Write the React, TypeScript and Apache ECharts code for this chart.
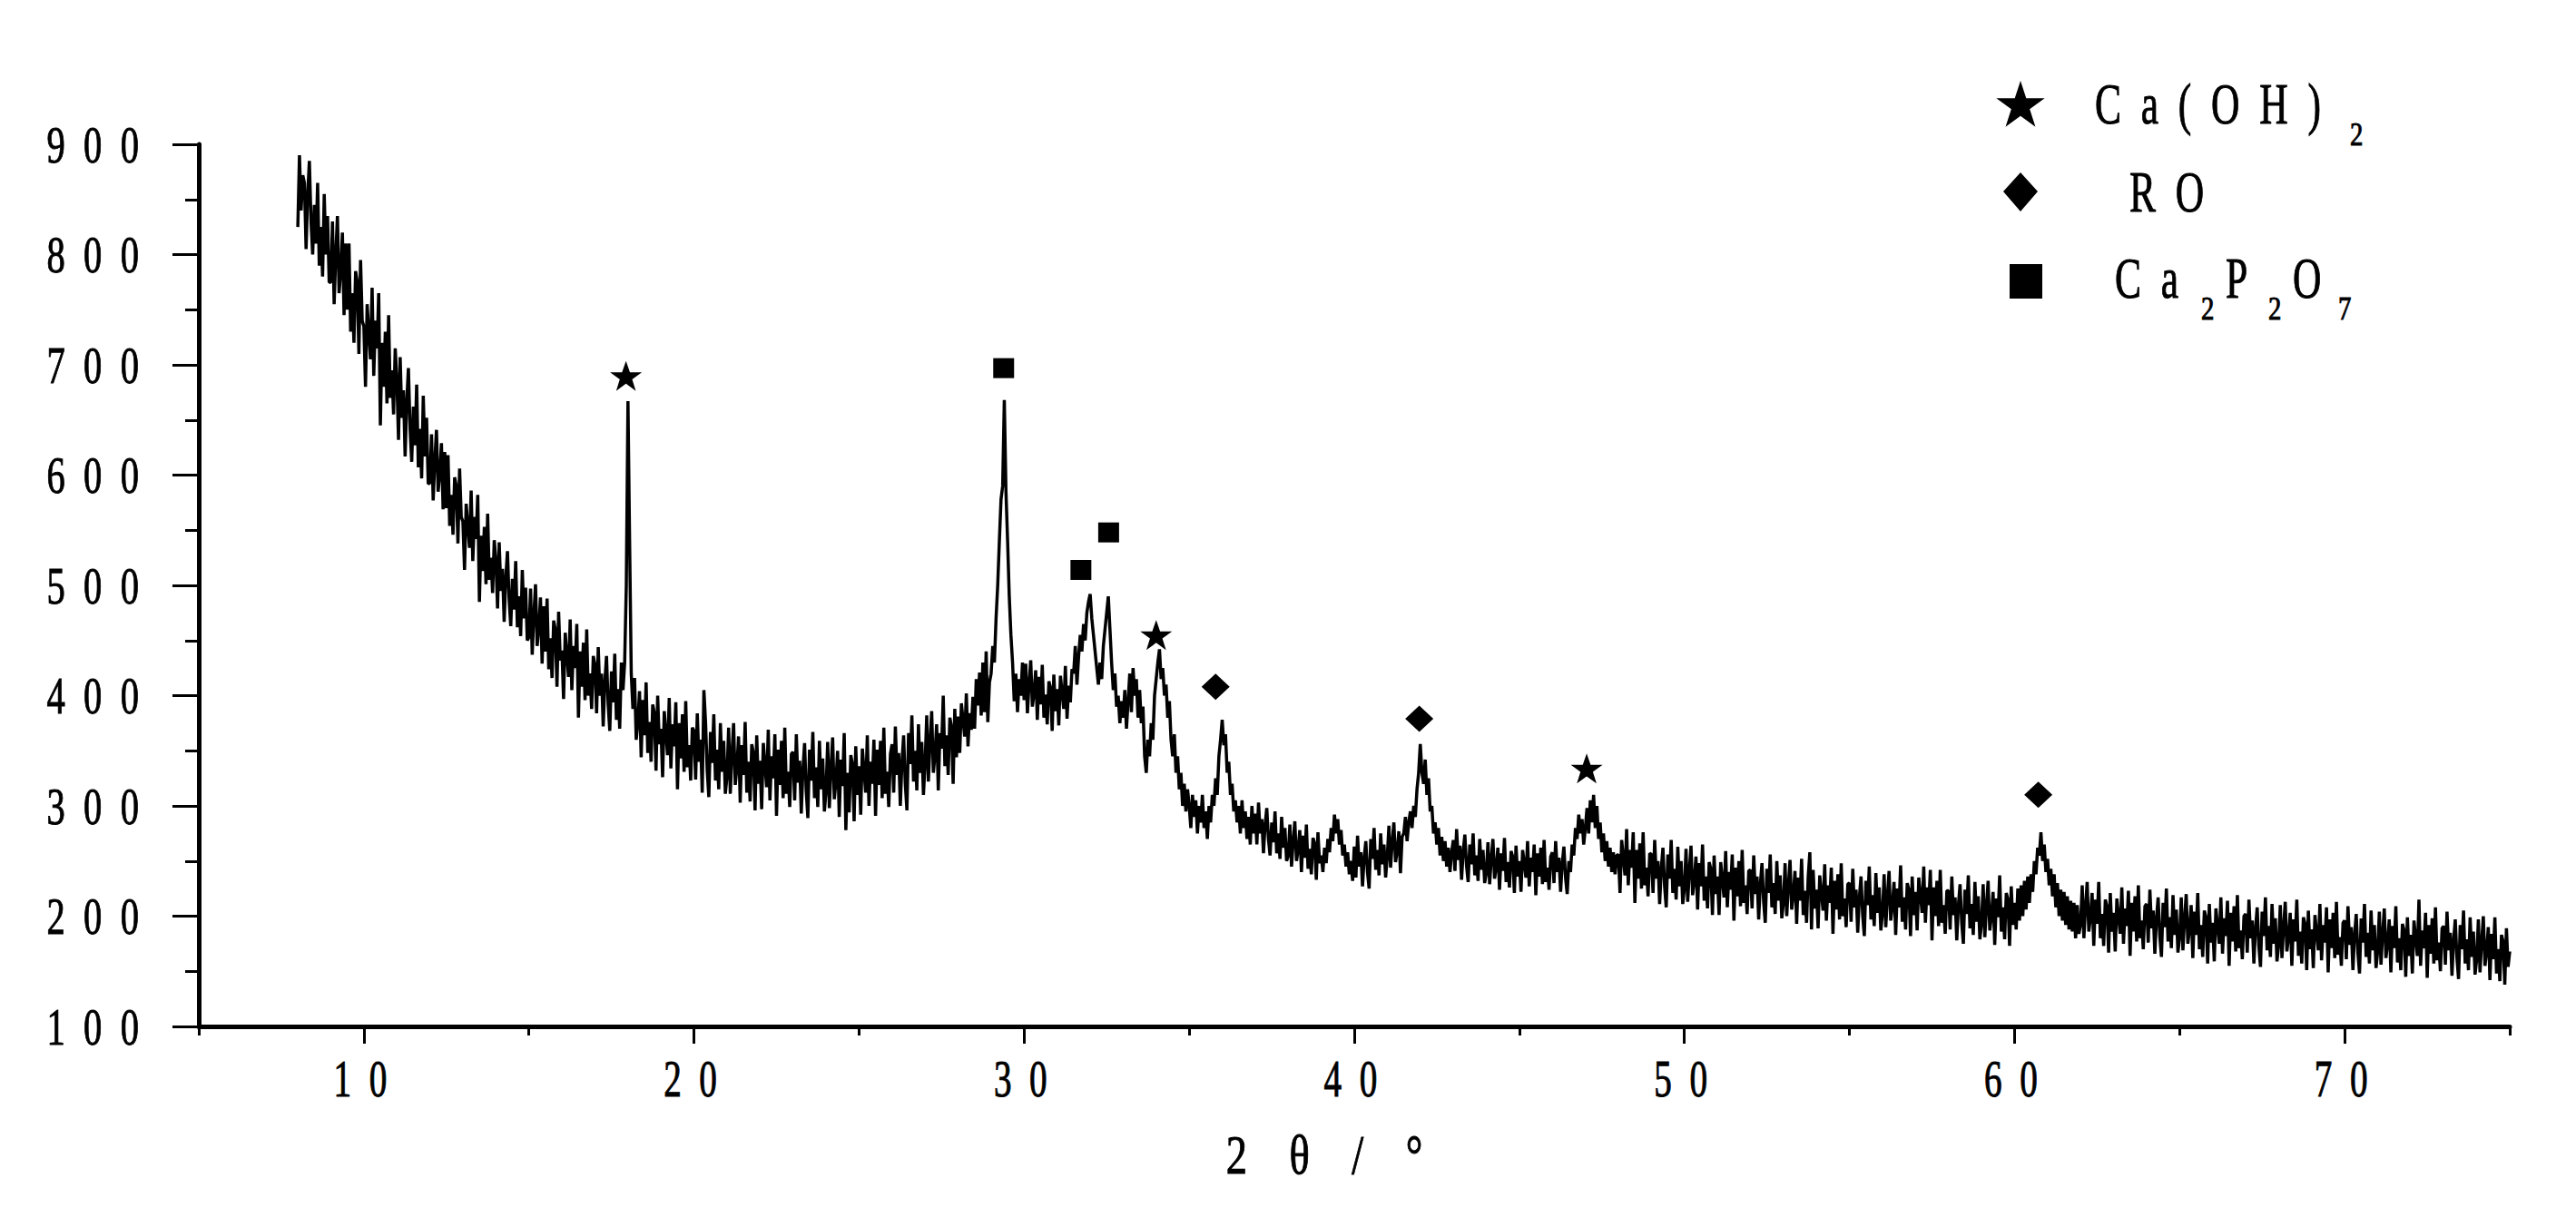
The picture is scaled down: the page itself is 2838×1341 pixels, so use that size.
import React, { useEffect, useRef } from "react";
import * as echarts from "echarts";

// ---- data ----
const START_2THETA = 8.0;
const STEP_2THETA = 0.05;
// intensity, one row per degree (x.00 .. x.95)
const intensity: number[] = [
  825, 890, 840, 872, 865, 805, 855, 885, 830, 800, 845, 810, 865, 790, 825, 780, 855, 800, 835, 775, // 8
  775, 830, 755, 800, 835, 765, 785, 820, 745, 810, 750, 810, 730, 765, 720, 785, 775, 710, 795, 740, // 9
  735, 680, 755, 730, 705, 770, 690, 740, 715, 765, 645, 720, 680, 730, 665, 745, 670, 695, 655, 715, // 10
  687, 632, 707, 652, 677, 617, 667, 697, 642, 612, 662, 627, 682, 607, 642, 597, 672, 617, 652, 592, // 11
  593, 637, 577, 613, 641, 585, 601, 629, 569, 621, 570, 618, 554, 582, 546, 598, 590, 538, 606, 562, // 12
  558, 514, 574, 554, 534, 586, 522, 562, 542, 582, 485, 545, 513, 553, 501, 565, 505, 525, 493, 541, // 13
  523, 479, 539, 495, 515, 467, 507, 531, 487, 463, 506, 478, 522, 462, 490, 454, 514, 470, 498, 450, // 14
  453, 497, 437, 473, 501, 445, 461, 489, 429, 481, 440, 488, 424, 452, 416, 468, 460, 408, 476, 432, // 15
  441, 397, 457, 437, 417, 469, 405, 445, 425, 465, 380, 440, 408, 448, 396, 460, 400, 420, 388, 436, // 16
  428, 384, 444, 400, 420, 372, 412, 436, 392, 368, 422, 394, 438, 378, 406, 370, 430, 405, 430, 500, // 17
  667, 540, 420, 388, 416, 360, 376, 404, 344, 396, 364, 412, 348, 376, 340, 392, 384, 332, 400, 356, // 18
  370, 326, 386, 366, 346, 398, 334, 374, 354, 394, 315, 375, 343, 383, 331, 395, 335, 355, 323, 371, // 19
  368, 324, 384, 340, 360, 312, 405, 376, 332, 308, 367, 339, 383, 323, 351, 315, 375, 331, 359, 311, // 20
  327, 371, 311, 347, 375, 319, 335, 363, 303, 355, 328, 376, 312, 340, 304, 356, 348, 296, 364, 320, // 21
  341, 297, 357, 337, 317, 369, 305, 345, 325, 365, 291, 351, 319, 359, 307, 371, 311, 331, 299, 347, // 22
  349, 305, 365, 321, 341, 293, 333, 357, 313, 289, 351, 323, 367, 307, 335, 299, 359, 315, 343, 295, // 23
  314, 358, 298, 334, 362, 306, 322, 350, 290, 342, 318, 366, 278, 330, 294, 346, 338, 286, 354, 310, // 24
  336, 292, 352, 332, 312, 364, 300, 340, 320, 360, 291, 351, 319, 359, 307, 371, 311, 331, 299, 347, // 25
  356, 312, 372, 328, 348, 300, 340, 364, 320, 296, 366, 338, 382, 322, 350, 314, 374, 330, 358, 310, // 26
  338, 382, 322, 358, 386, 330, 346, 374, 314, 366, 352, 400, 336, 364, 328, 380, 372, 320, 388, 344, // 27
  381, 348, 393, 378, 363, 402, 354, 384, 369, 399, 370, 415, 391, 421, 382, 430, 385, 440, 376, 412, // 28
  420, 445, 430, 470, 500, 540, 578, 590, 668, 585, 540, 490, 455, 430, 395, 420, 385, 415, 400, 430, // 29
  396, 429, 384, 411, 432, 390, 402, 423, 378, 417, 392, 428, 380, 401, 374, 413, 407, 368, 419, 386, // 30
  406, 373, 418, 403, 388, 427, 379, 409, 394, 424, 420, 445, 410, 435, 455, 440, 465, 450, 475, 485, // 31
  492, 470, 455, 440, 425, 410, 430, 415, 445, 460, 475, 490, 460, 430, 405, 420, 390, 400, 375, 395, // 32
  380, 405, 370, 395, 420, 385, 425, 400, 415, 380, 405, 375, 390, 345, 330, 360, 345, 375, 360, 400, // 33
  415, 430, 442, 415, 425, 400, 410, 380, 395, 360, 345, 365, 330, 345, 315, 330, 300, 320, 295, 315, // 34
  300, 280, 310, 290, 305, 275, 300, 285, 310, 280, 295, 270, 300, 285, 310, 300, 325, 310, 345, 360, // 35
  378, 355, 365, 330, 340, 310, 320, 295, 305, 285, 300, 275, 305, 280, 295, 270, 290, 265, 300, 275, // 36
  293, 265, 303, 275, 288, 257, 283, 298, 270, 255, 285, 267, 295, 257, 275, 252, 290, 262, 280, 250, // 37
  255, 283, 245, 268, 286, 250, 260, 278, 240, 273, 253, 283, 243, 261, 238, 271, 266, 233, 276, 248, // 38
  255, 240, 262, 248, 270, 258, 280, 268, 292, 275, 288, 265, 278, 255, 265, 245, 258, 238, 250, 232, // 39
  263, 235, 273, 245, 258, 227, 253, 268, 240, 225, 270, 252, 280, 242, 260, 237, 275, 247, 265, 235, // 40
  254, 282, 244, 267, 285, 249, 259, 277, 239, 272, 275, 290, 268, 285, 295, 280, 300, 290, 315, 330, // 41
  356, 330, 320, 342, 310, 325, 295, 300, 275, 285, 265, 280, 255, 272, 250, 268, 245, 262, 240, 258, // 42
  269, 241, 279, 251, 264, 233, 259, 274, 246, 231, 265, 247, 275, 237, 255, 232, 270, 242, 260, 230, // 43
  239, 267, 229, 252, 270, 234, 244, 262, 224, 257, 241, 271, 231, 249, 226, 259, 254, 221, 264, 236, // 44
  250, 222, 260, 248, 235, 268, 227, 253, 240, 265, 219, 257, 236, 262, 229, 269, 231, 244, 224, 254, // 45
  258, 230, 268, 240, 253, 222, 248, 263, 235, 220, 250, 240, 265, 255, 280, 270, 292, 275, 288, 265, // 46
  280, 298, 275, 305, 285, 310, 280, 300, 270, 285, 258, 275, 250, 268, 245, 262, 240, 258, 238, 255, // 47
  256, 221, 269, 253, 237, 279, 228, 260, 244, 276, 212, 260, 234, 266, 225, 276, 228, 244, 218, 257, // 48
  256, 221, 269, 234, 250, 211, 243, 262, 227, 208, 256, 234, 269, 221, 243, 215, 263, 227, 250, 211, // 49
  225, 261, 213, 241, 264, 219, 232, 254, 206, 248, 227, 265, 214, 236, 207, 249, 243, 201, 255, 220, // 50
  236, 201, 249, 233, 217, 259, 208, 240, 224, 256, 196, 244, 218, 250, 209, 260, 212, 228, 202, 241, // 51
  242, 207, 255, 220, 236, 197, 229, 248, 213, 194, 243, 221, 256, 208, 230, 202, 250, 214, 237, 198, // 52
  212, 248, 200, 228, 251, 206, 219, 241, 193, 235, 214, 252, 201, 223, 194, 236, 258, 188, 242, 207, // 53
  224, 189, 237, 221, 205, 247, 196, 228, 212, 244, 184, 232, 206, 238, 197, 248, 200, 216, 190, 229, // 54
  230, 195, 243, 208, 224, 185, 217, 236, 201, 182, 232, 210, 245, 197, 219, 191, 239, 203, 226, 187, // 55
  202, 238, 190, 218, 241, 196, 209, 231, 183, 225, 208, 246, 195, 217, 188, 230, 224, 182, 236, 201, // 56
  222, 187, 235, 219, 203, 245, 194, 226, 210, 242, 178, 226, 200, 232, 191, 242, 194, 210, 184, 223, // 57
  223, 188, 236, 201, 217, 178, 210, 229, 194, 175, 224, 202, 237, 189, 211, 183, 231, 195, 218, 179, // 58
  193, 229, 181, 209, 232, 187, 200, 222, 174, 216, 199, 237, 186, 208, 179, 221, 215, 173, 227, 192, // 59
  212, 188, 225, 196, 228, 200, 232, 206, 236, 212, 238, 222, 250, 238, 262, 255, 276, 250, 265, 240, // 60
  252, 228, 243, 218, 238, 208, 230, 200, 224, 196, 222, 192, 218, 188, 214, 186, 212, 180, 210, 184, // 61
  192, 228, 180, 208, 231, 186, 199, 221, 173, 215, 193, 231, 180, 202, 173, 215, 209, 167, 221, 186, // 62
  203, 168, 216, 200, 184, 226, 175, 207, 191, 223, 164, 212, 186, 218, 177, 228, 180, 196, 170, 209, // 63
  211, 176, 224, 189, 205, 166, 198, 217, 182, 163, 212, 190, 225, 177, 199, 171, 219, 183, 206, 167, // 64
  181, 217, 169, 197, 220, 175, 188, 210, 162, 204, 183, 221, 170, 192, 163, 205, 199, 157, 211, 176, // 65
  194, 159, 207, 191, 175, 217, 166, 198, 182, 214, 155, 203, 177, 209, 168, 219, 171, 187, 161, 200, // 66
  202, 167, 215, 180, 196, 157, 189, 208, 173, 154, 204, 182, 217, 169, 191, 163, 211, 175, 198, 159, // 67
  174, 210, 162, 190, 213, 168, 181, 203, 155, 197, 177, 215, 164, 186, 157, 199, 193, 151, 205, 170, // 68
  188, 153, 201, 185, 169, 211, 160, 192, 176, 208, 149, 197, 171, 203, 162, 213, 165, 181, 155, 194, // 69
  196, 161, 209, 174, 190, 151, 183, 202, 167, 148, 198, 176, 211, 163, 185, 157, 205, 169, 192, 153, // 70
  168, 204, 156, 184, 207, 162, 175, 197, 149, 191, 171, 209, 158, 180, 151, 193, 187, 145, 199, 164, // 71
  183, 148, 196, 180, 164, 215, 155, 187, 171, 203, 144, 192, 166, 198, 157, 208, 160, 176, 150, 189, // 72
  191, 156, 204, 169, 185, 146, 178, 197, 162, 143, 192, 170, 205, 157, 179, 151, 199, 163, 186, 147, // 73
  161, 197, 149, 177, 200, 155, 168, 190, 142, 184, 161, 199, 148, 170, 141, 183, 177, 138, 189, 154, // 74
  168, // 75
];

const xTickLabels = [10, 20, 30, 40, 50, 60, 70];
const yTickLabels = [100, 200, 300, 400, 500, 600, 700, 800, 900];

// peak markers [2theta, height]
const caOH2Marks = [[17.94, 690], [34.0, 455], [47.04, 334]];
const ca2p2o7Marks = [[29.38, 697], [31.72, 514], [32.56, 548]];
const roMarks = [[35.8, 408], [41.97, 379], [60.72, 310]];

const W = 2838;
const H = 1341;
const FONT = "Liberation Serif";
const STAR =
  "path://M0,-50 L11.8,-15.5 L47.6,-15.5 L18.6,5.9 L29.4,40.5 L0,19.1 L-29.4,40.5 L-18.6,5.9 L-47.6,-15.5 L-11.8,-15.5 Z";

const spaced = (s: string, sp: string) => s.split("").join(sp);

function starPoints(cx: number, cy: number, R: number) {
  const pts: number[][] = [];
  for (let k = 0; k < 10; k++) {
    const r = k % 2 === 0 ? R : R * 0.382;
    const a = (-90 + k * 36) * (Math.PI / 180);
    pts.push([cx + r * Math.cos(a), cy + r * Math.sin(a)]);
  }
  return pts;
}

export default function App() {
  const ref = useRef<HTMLDivElement>(null);
  useEffect(() => {
    if (!ref.current) return;
    const chart = echarts.init(ref.current, null, { renderer: "svg" });
    const lineData = intensity.map((v, i) => [
      +(START_2THETA + i * STEP_2THETA).toFixed(2),
      v,
    ]);
    const option: any = {
      animation: false,
      backgroundColor: "#fff",
      grid: { left: 219, right: W - 2765, top: 159, bottom: H - 1131, containLabel: false },
      xAxis: [
        {
          type: "value",
          min: 5,
          max: 75,
          interval: 5,
          position: "bottom",
          axisLine: { show: true, onZero: false, lineStyle: { color: "#000", width: 5 } },
          axisTick: { show: true, length: 10, lineStyle: { color: "#000", width: 3 } },
          axisLabel: { show: false },
          splitLine: { show: false },
        },
        {
          type: "value",
          min: 5,
          max: 75,
          position: "bottom",
          axisLine: { show: false, onZero: false },
          axisTick: {
            show: true,
            length: 19,
            customValues: xTickLabels,
            lineStyle: { color: "#000", width: 3 },
          },
          axisLabel: { show: false, customValues: xTickLabels },
          splitLine: { show: false },
        },
      ],
      yAxis: {
        type: "value",
        min: 100,
        max: 900,
        interval: 100,
        axisLine: { show: true, onZero: false, lineStyle: { color: "#000", width: 5 } },
        axisTick: { show: true, length: 29, lineStyle: { color: "#000", width: 3 } },
        minorTick: { show: true, splitNumber: 2, length: 15, lineStyle: { color: "#000", width: 3 } },
        axisLabel: { show: false },
        splitLine: { show: false },
      },
      series: [
        {
          type: "line",
          data: lineData,
          xAxisIndex: 0,
          showSymbol: false,
          symbol: "none",
          lineStyle: { color: "#000", width: 3.5 },
          z: 2,
        },
        {
          type: "scatter",
          name: "Ca(OH)2",
          data: caOH2Marks,
          symbol: STAR,
          symbolSize: [35, 33],
          itemStyle: { color: "#000", opacity: 1 },
          z: 3,
        },
        {
          type: "scatter",
          name: "RO",
          data: roMarks,
          symbol: "diamond",
          symbolSize: [31, 29],
          itemStyle: { color: "#000", opacity: 1 },
          z: 3,
        },
        {
          type: "scatter",
          name: "Ca2P2O7",
          data: ca2p2o7Marks,
          symbol: "rect",
          symbolSize: [23, 22],
          itemStyle: { color: "#000", opacity: 1 },
          z: 3,
        },
      ],
    };
    chart.setOption(option);

    const txt = (
      text: string,
      x: number,
      y: number,
      size: number,
      sx: number,
      align: string
    ) => ({
      type: "text",
      x,
      y,
      scaleX: sx,
      style: {
        text,
        fontFamily: FONT,
        fontSize: size,
        fill: "#000",
        stroke: "#000",
        lineWidth: 1,
        align,
        verticalAlign: "middle",
      },
    });

    const g: any[] = [];
    // y tick labels
    yTickLabels.forEach((v) => {
      const py = chart.convertToPixel({ yAxisIndex: 0 }, v) as number;
      g.push(txt(spaced(String(v), "\u2002"), 153, py, 58, 0.7, "right"));
    });
    // x tick labels
    xTickLabels.forEach((v) => {
      const px = chart.convertToPixel({ xAxisIndex: 0 }, v) as number;
      g.push(txt(spaced(String(v), "\u2002"), px - 4, 1189, 56, 0.7, "center"));
    });
    // axis title
    g.push(txt("2\u2003θ\u2003/\u2003°", 1459, 1272, 62, 0.75, "center"));

    // legend
    g.push({ type: "polygon", shape: { points: starPoints(2226, 117, 28) }, style: { fill: "#000" } });
    g.push(txt(spaced("Ca(OH)", "\u2002"), 2308, 114, 64, 0.68, "left"));
    g.push(txt("2", 2589, 148, 36, 0.8, "left"));

    g.push({
      type: "polygon",
      shape: { points: [[2226, 190], [2245, 211], [2226, 233], [2207, 211]] },
      style: { fill: "#000" },
    });
    g.push(txt(spaced("RO", "\u2002"), 2346, 211, 64, 0.68, "left"));

    g.push({ type: "rect", shape: { x: 2214, y: 291, width: 36, height: 38 }, style: { fill: "#000" } });
    g.push(txt(spaced("Ca", "\u2002"), 2330, 306, 64, 0.68, "left"));
    g.push(txt("2", 2425, 340, 36, 0.8, "left"));
    g.push(txt("P", 2452, 306, 64, 0.68, "left"));
    g.push(txt("2", 2499, 340, 36, 0.8, "left"));
    g.push(txt("O", 2526, 306, 64, 0.68, "left"));
    g.push(txt("7", 2576, 340, 36, 0.8, "left"));

    chart.setOption({ graphic: g });

    return () => chart.dispose();
  }, []);
  return (
    <div
      ref={ref}
      style={{ position: "fixed", left: 0, top: 0, width: W, height: H, background: "#fff" }}
    />
  );
}
